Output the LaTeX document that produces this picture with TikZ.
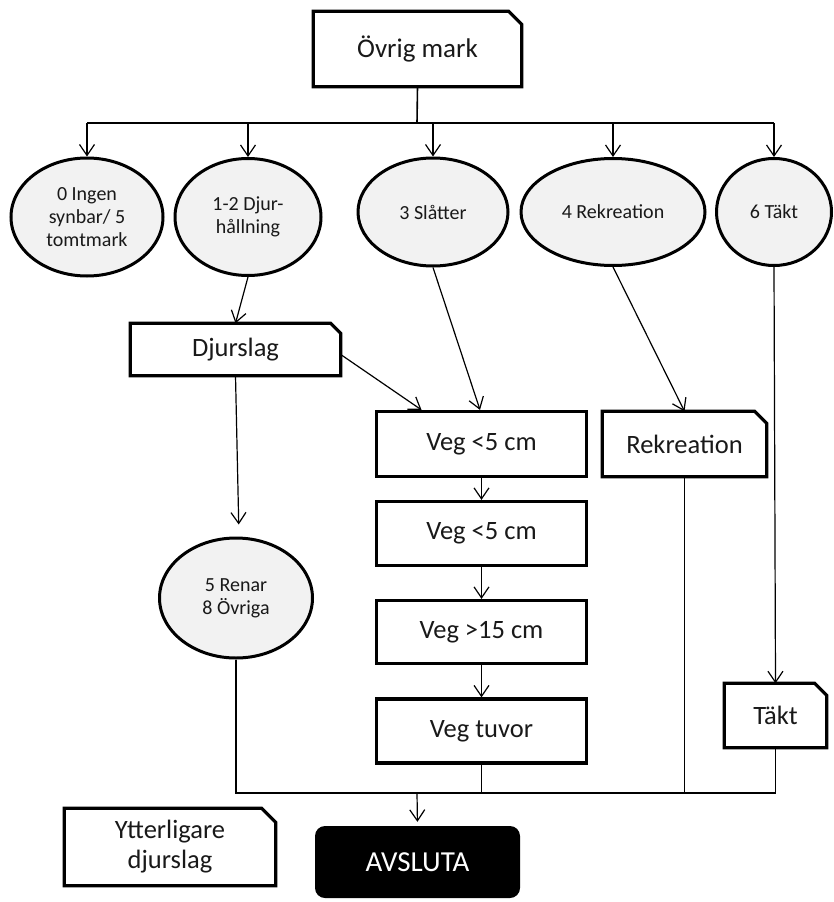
\documentclass[tikz,border=0pt]{standalone}
\usepackage{fontspec}
\setmainfont{Carlito}
\usetikzlibrary{arrows.meta,shapes.geometric,calc}

% outline of a box with its top right corner cut off
\newcommand\dogear[2][12pt]{%
  \draw[line width=3.2pt, line join=miter]
    (#2.south west) -- (#2.north west) -- ([xshift=-#1]#2.north east)
    -- ([yshift=-#1]#2.north east) -- (#2.south east) -- cycle;}

\begin{document}
\begin{tikzpicture}[x=1pt,y=-1pt,
  conn/.style={line width=1.2pt},
  arr/.style={conn,-{Straight Barb[length=11pt,width=15pt,line width=1.2pt]}},
  hub/.style={ellipse, draw, line width=3pt, fill=gray!10, inner sep=0pt,
    align=center, text=black!90, font=\fontsize{20}{23}\selectfont},
  stepbox/.style={rectangle, draw, line width=3.2pt, inner sep=0pt,
    align=center, text=black!90, font=\fontsize{26.5}{31}\selectfont},
  notebox/.style={rectangle, inner sep=0pt, align=center, text=black!90,
    font=\fontsize{26.5}{31}\selectfont},
]
\useasboundingbox (0,0) rectangle (834,902);

% top box and the category ellipses
\node[notebox, minimum width=208, minimum height=75,
  font=\fontsize{27}{32}\selectfont] (ovrig) at (417.5,49) {Övrig mark};
\dogear[13pt]{ovrig}

\node[hub, minimum width=152, minimum height=118] (e0) at (87,217)
  {0 Ingen\\synbar/ 5\\tomtmark};
\node[hub, minimum width=146, minimum height=117] (e1) at (248,217)
  {1-2 Djur-\\hållning};
\node[hub, minimum width=150, minimum height=108] (e3) at (433,212)
  {3 Slåtter};
\node[hub, minimum width=184, minimum height=107] (e4) at (613,212)
  {4 Rekreation};
\node[hub, minimum width=115, minimum height=107] (e6) at (774,212)
  {6 Täkt};

% second level
\node[notebox, minimum width=210, minimum height=52] (djurslag) at (235.5,349.5)
  {Djurslag};
\dogear[10pt]{djurslag}

\node[stepbox, minimum width=210, minimum height=65] (veg1) at (481.5,444)
  {Veg <5 cm};
\node[notebox, minimum width=164, minimum height=65] (rekbox) at (684.5,444)
  {Rekreation};
\dogear[12pt]{rekbox}

\node[stepbox, minimum width=210, minimum height=64] (veg2) at (481.5,533.5)
  {Veg <5 cm};
\node[stepbox, minimum width=210, minimum height=63] (veg3) at (481.5,632)
  {Veg >15 cm};
\node[stepbox, minimum width=210, minimum height=64] (veg4) at (481.5,731)
  {Veg tuvor};

\node[hub, minimum width=153, minimum height=120] (renar) at (236,598)
  {5 Renar\\8 Övriga};

\node[notebox, minimum width=102, minimum height=64] (takt) at (775.5,715.5)
  {Täkt};
\dogear[12pt]{takt}

\node[notebox, minimum width=211, minimum height=77,
  font=\fontsize{26.5}{30}\selectfont] (ytter) at (170,847)
  {Ytterligare\\djurslag};
\dogear[14pt]{ytter}

\node[rectangle, rounded corners=10pt, fill=black, text=white,
  minimum width=205, minimum height=72, inner sep=0pt,
  font=\fontsize{29}{34}\selectfont] (avsluta) at (417.5,862) {AVSLUTA};

% distribution bus below the top box
\coordinate (bus) at (417,123);
\draw[line width=1.6pt] (ovrig.south) -- (bus);
\draw[conn] (e0.north |- bus) -- (e6.north |- bus);
\foreach \n in {e0,e1,e3,e4,e6}
  \draw[arr] (\n.north |- bus) -- (\n.north);

% links from the ellipses
\draw[arr] (e1.south) -- (djurslag.north);
\draw[arr] ([yshift=-5pt]djurslag.east) -- ([xshift=-60pt]veg1.north);
\draw[arr, shorten >=12pt] (djurslag.south) -- ([xshift=3pt]renar.north);
\draw[arr] (e3.south) -- ([xshift=-1.5pt]veg1.north);
\draw[arr] (e4.south) -- (rekbox.north);
\draw[arr] (e6.south) -- (takt.north);

% vegetation chain
\draw[arr] (veg1.south) -- (veg2.north);
\draw[arr] (veg2.south) -- (veg3.north);
\draw[arr] (veg3.south) -- (veg4.north);

% collecting line to the end box
\coordinate (join) at (417,793);
\draw[conn] (renar.south) |- (takt.south |- join) -- (takt.south);
\draw[conn] (veg4.south) -- (veg4.south |- join);
\draw[conn] (rekbox.south) -- (rekbox.south |- join);
\draw[arr, shorten >=4pt] (join) -- (avsluta.north);
\end{tikzpicture}
\end{document}
